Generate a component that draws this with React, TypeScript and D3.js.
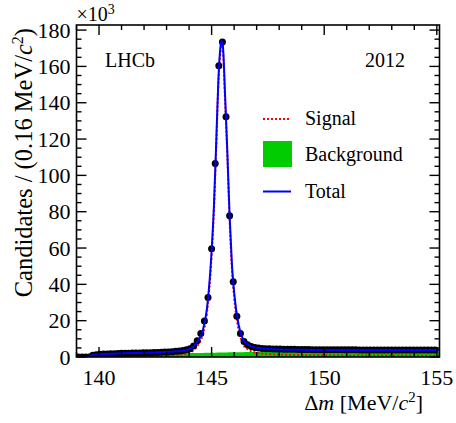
import * as d3 from "d3";
import { useEffect, useRef } from "react";

// data histogram: 100 bins of 0.16 MeV from 139.0 MeV, counts in units of 10^3
const binCentres: number[] = d3.range(100).map(i => 139.08 + 0.16 * i);
const counts: number[] = [
  0, 0, 0, 0.05, 0.9, 1.3, 1.5, 1.6, 1.7, 1.8,
  1.85, 1.9, 2.0, 2.05, 2.1, 2.15, 2.2, 2.25, 2.3, 2.35,
  2.4, 2.45, 2.5, 2.6, 2.7, 2.8, 2.9, 3.1, 3.3, 3.6,
  4.0, 4.5, 6.0, 9.0, 13.0, 19.8, 32.8, 59.6, 106.6, 160.3,
  173.5, 132.3, 77.8, 41.5, 22.4, 13.0, 8.6, 6.8, 5.8, 5.2,
  4.9, 4.7, 4.6, 4.5, 4.45, 4.4, 4.35, 4.3, 4.25, 4.2,
  4.2, 4.15, 4.15, 4.1, 4.1, 4.05, 4.05, 4.0, 4.0, 4.0,
  4.0, 4.0, 4.0, 3.95, 3.95, 3.95, 3.95, 3.95, 3.9, 3.9,
  3.9, 3.9, 3.9, 3.9, 3.85, 3.9, 3.85, 3.85, 3.85, 3.85,
  3.85, 3.85, 3.8, 3.85, 3.8, 3.8, 3.8, 3.8, 3.8, 3.8,
];

// fit components sampled along Δm, in units of 10^3
const fitMass: number[] = [
  139.0, 139.57, 139.65, 139.8, 140.0, 140.5, 141.0, 141.5, 142.0, 142.5,
  143.0, 143.5, 143.8, 144.0, 144.2, 144.4, 144.6, 144.8, 145.0, 145.1,
  145.2, 145.3, 145.4, 145.45, 145.5, 145.6, 145.7, 145.8, 145.9, 146.0,
  146.2, 146.4, 146.6, 146.8, 147.0, 147.5, 148.0, 149.0, 150.0, 152.0,
  155.12,
];
const background: number[] = [
  0, 0, 0.5, 0.9, 1.1, 1.35, 1.5, 1.6, 1.7, 1.8,
  1.9, 2.0, 2.05, 2.1, 2.15, 2.2, 2.25, 2.3, 2.35, 2.37,
  2.4, 2.42, 2.45, 2.46, 2.47, 2.5, 2.52, 2.55, 2.57, 2.6,
  2.62, 2.65, 2.7, 2.72, 2.75, 2.8, 2.85, 2.9, 2.95, 3.0,
  3.05,
];
const signal: number[] = [
  0, 0, 0.2, 0.3, 0.4, 0.45, 0.5, 0.55, 0.6, 0.7,
  0.8, 1.1, 1.5, 2.2, 3.8, 6.8, 12, 25, 56, 80,
  114, 150, 169, 171.5, 169, 141, 110, 75, 49, 33,
  15, 7, 4.3, 3.0, 2.3, 1.6, 1.3, 1.05, 0.9, 0.8,
  0.75,
];

const xTicks = [140, 145, 150, 155];
const yTicks = [0, 20, 40, 60, 80, 100, 120, 140, 160, 180];

const W = 456;
const H = 423;
const margin = { top: 25, right: 16.5, bottom: 66, left: 76.5 };
const FONT = "'Liberation Serif', 'DejaVu Serif', serif";

export default function App() {
  const ref = useRef<SVGSVGElement | null>(null);

  useEffect(() => {
    const svg = d3.select(ref.current);
    svg.selectAll("*").remove();

    const x = d3.scaleLinear().domain([139, 155.12]).range([margin.left, W - margin.right]);
    const y = d3.scaleLinear().domain([0, 182.8]).range([H - margin.bottom, margin.top]);
    const x0 = margin.left, x1 = W - margin.right;
    const y0 = H - margin.bottom, y1 = margin.top;

    svg.append("defs").append("clipPath").attr("id", "plot")
      .append("rect").attr("x", x0).attr("y", y1).attr("width", x1 - x0).attr("height", y0 - y1);

    const g = svg.append("g").attr("clip-path", "url(#plot)");
    const fit = fitMass.map((m, i) => ({ m, b: background[i], s: signal[i], t: background[i] + signal[i] }));

    g.append("path")
      .datum(fit)
      .attr("fill", "#00cc00")
      .attr("d", d3.area<typeof fit[0]>().x(d => x(d.m)).y0(y(0)).y1(d => y(d.b)).curve(d3.curveMonotoneX) as any);

    g.append("path")
      .datum(fit)
      .attr("fill", "none")
      .attr("stroke", "#ff0000")
      .attr("stroke-width", 2)
      .attr("stroke-dasharray", "2,2")
      .attr("d", d3.line<typeof fit[0]>().x(d => x(d.m)).y(d => y(d.s)).curve(d3.curveMonotoneX) as any);

    g.selectAll("circle.pt")
      .data(binCentres.map((c, i) => ({ c, v: counts[i] })))
      .enter()
      .append("circle")
      .attr("cx", d => x(d.c))
      .attr("cy", d => y(d.v))
      .attr("r", 3.5)
      .attr("fill", "#000");

    g.append("path")
      .datum(fit)
      .attr("fill", "none")
      .attr("stroke", "#0000ff")
      .attr("stroke-width", 2)
      .attr("d", d3.line<typeof fit[0]>().x(d => x(d.m)).y(d => y(d.t)).curve(d3.curveMonotoneX) as any);

    // frame
    svg.append("rect")
      .attr("x", x0).attr("y", y1).attr("width", x1 - x0).attr("height", y0 - y1)
      .attr("fill", "none").attr("stroke", "#000").attr("stroke-width", 1.6);

    const ax = svg.append("g").attr("stroke", "#000").attr("stroke-width", 1.4);
    d3.range(139, 156, 1).forEach(t => {
      const len = t % 5 === 0 ? 10 : 5;
      ax.append("line").attr("x1", x(t)).attr("x2", x(t)).attr("y1", y0).attr("y2", y0 - len);
      ax.append("line").attr("x1", x(t)).attr("x2", x(t)).attr("y1", y1).attr("y2", y1 + len);
    });
    d3.range(0, 185, 5).forEach(t => {
      const len = t % 20 === 0 ? 10 : 5;
      ax.append("line").attr("x1", x0).attr("x2", x0 + len).attr("y1", y(t)).attr("y2", y(t));
      ax.append("line").attr("x1", x1).attr("x2", x1 - len).attr("y1", y(t)).attr("y2", y(t));
    });

    const txt = svg.append("g").attr("font-family", FONT).attr("fill", "#000");
    xTicks.forEach(t => {
      txt.append("text").attr("x", x(t)).attr("y", y0 + 28).attr("text-anchor", "middle")
        .attr("font-size", 22).text(String(t));
    });
    yTicks.forEach(t => {
      txt.append("text").attr("x", x0 - 6).attr("y", y(t) + 7.5).attr("text-anchor", "end")
        .attr("font-size", 22).text(String(t));
    });

    // ×10^3
    const e = txt.append("text").attr("x", x0).attr("y", 21).attr("font-size", 20);
    e.append("tspan").text("×10");
    e.append("tspan").attr("dy", -7).attr("font-size", 14).text("3");

    // x title
    const xt = txt.append("text").attr("x", 423).attr("y", 410).attr("text-anchor", "end").attr("font-size", 22);
    xt.append("tspan").text("Δ");
    xt.append("tspan").attr("font-style", "italic").text("m");
    xt.append("tspan").text(" [MeV/");
    xt.append("tspan").attr("font-style", "italic").text("c");
    xt.append("tspan").attr("dy", -8).attr("font-size", 15).text("2");
    xt.append("tspan").attr("dy", 8).text("]");

    // y title
    const yt = txt.append("text").attr("transform", "translate(32,28) rotate(-90)")
      .attr("text-anchor", "end").attr("font-size", 24.5);
    yt.append("tspan").text("Candidates / (0.16 MeV/");
    yt.append("tspan").attr("font-style", "italic").text("c");
    yt.append("tspan").attr("dy", -9).attr("font-size", 16).text("2");
    yt.append("tspan").attr("dy", 9).text(")");

    txt.append("text").attr("x", 105).attr("y", 67).attr("font-size", 20).text("LHCb");
    txt.append("text").attr("x", 405).attr("y", 67).attr("text-anchor", "end").attr("font-size", 20).text("2012");

    // legend
    const lg = svg.append("g");
    lg.append("line").attr("x1", 263).attr("x2", 291).attr("y1", 119).attr("y2", 119)
      .attr("stroke", "#ff0000").attr("stroke-width", 2).attr("stroke-dasharray", "2,2");
    lg.append("rect").attr("x", 263).attr("y", 141).attr("width", 29).attr("height", 26).attr("fill", "#00cc00");
    lg.append("line").attr("x1", 263).attr("x2", 291).attr("y1", 191.5).attr("y2", 191.5)
      .attr("stroke", "#0000ff").attr("stroke-width", 2);
    [["Signal", 125], ["Background", 161], ["Total", 198]].forEach(([s, yy]) => {
      txt.append("text").attr("x", 305).attr("y", yy as number).attr("font-size", 20).text(s as string);
    });
  }, []);

  return (
    <svg
      ref={ref}
      width={W}
      height={H}
      viewBox={`0 0 ${W} ${H}`}
      style={{ position: "absolute", left: 0, top: 0, background: "#fff" }}
    />
  );
}
